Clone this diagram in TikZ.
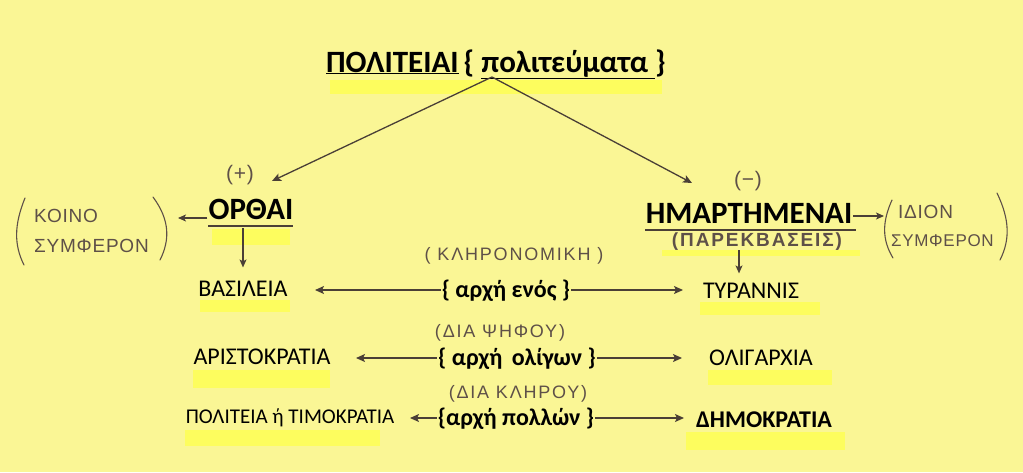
\documentclass[tikz,border=0pt]{standalone}
\usepackage{fontspec}
\setmainfont{Carlito}
\newfontfamily\handfont[LetterSpace=4]{Liberation Sans}
\newfontfamily\handwide[LetterSpace=10]{Liberation Sans}
\usetikzlibrary{arrows.meta}
\definecolor{paper}{HTML}{FAF695}
\definecolor{hilite}{HTML}{FDFD5E}
\definecolor{ink}{HTML}{4A3F36}
\definecolor{pencil}{HTML}{5E5048}
\tikzset{
  arr/.style={draw=ink, line width=1.3pt, -{Stealth[length=9pt,width=8pt,inset=2pt]}},
  sarr/.style={draw=ink, line width=1.1pt, -{Stealth[length=8pt,width=7pt,inset=2pt]}},
  big/.style={font=\fontsize{31}{34}\selectfont\bfseries, anchor=base, inner sep=1pt},
  mid/.style={font=\fontsize{24}{27}\selectfont\bfseries, anchor=base, inner sep=1pt},
  reg/.style={font=\fontsize{24}{27}\selectfont, anchor=base, inner sep=1pt},
  hand/.style={font=\handfont\fontsize{19}{21}\selectfont, text=pencil, inner sep=1pt},
  handrow/.style={font=\handwide\fontsize{18}{20}\selectfont, text=pencil, inner sep=1pt},
  paren/.style={draw=pencil, line width=1.1pt, line cap=round},
  hl/.style={fill=hilite, draw=none},
}
\begin{document}
\begin{tikzpicture}[x=1pt,y=-1pt]
\fill[paper] (0,0) rectangle (1023,472);
\useasboundingbox (0,0) rectangle (1023,472);
% highlights
\fill[hl] (330,80) rectangle (662,94);
\fill[hl] (212,229) rectangle (290,245);
\fill[hl] (662,250) rectangle (860,256);
\fill[hl] (200,300) rectangle (290,312);
\fill[hl] (700,302) rectangle (820,315);
\fill[hl] (193,370) rectangle (330,388);
\fill[hl] (708,370) rectangle (832,385);
\fill[hl] (185,430) rectangle (380,446);
\fill[hl] (686,432) rectangle (845,450);
% title
\node[big] (title) at (496,72) {\underline{ΠΟΛΙΤΕΙΑΙ}\,\{ \underline{πολιτεύματα }\}};
\coordinate (fork) at (492,77);
% main branches
\node[big] (orth) at (251,219) {ΟΡΘΑΙ};
\draw[ink, line width=1.6pt] (208,226) -- (293,226);
\node[big] (hmar) at (749,223) {ΗΜΑΡΤΗΜΕΝΑΙ};
\draw[ink, line width=1.6pt] (645,230) -- (856,230);
\node[hand, font=\handfont\fontsize{21}{23}\selectfont] (plus) at (240,175) {(+)};
\node[hand, font=\handfont\fontsize{21}{23}\selectfont] (minus) at (748,181) {(−)};
\node[handrow, font=\handwide\fontsize{19}{21}\selectfont\bfseries] (parek) at (757,242) {(ΠΑΡΕΚΒΑΣΕΙΣ)};
% arrows from title
\coordinate (orthin) at (272,181);
\coordinate (hmarin) at (692,183);
\draw[arr] (fork) -- (orthin);
\draw[arr] (fork) -- (hmarin);
% side notes
\node[hand, anchor=west] (koino) at (33,216) {ΚΟΙΝΟ};
\node[hand, anchor=west] (symf1) at (33,246) {ΣΥΜΦΕΡΟΝ};
\draw[paren] (25,198) .. controls (14,225) and (14,245) .. (24,265);
\draw[paren] (153,197) .. controls (170,220) and (170,240) .. (160,260);
\node[hand, anchor=west] (idion) at (897,212) {ΙΔΙΟΝ};
\node[hand, anchor=west, font=\handfont\fontsize{17}{19}\selectfont] (symf2) at (890,241) {ΣΥΜΦΕΡΟΝ};
\draw[paren] (892,200) .. controls (882,222) and (882,240) .. (893,258);
\draw[paren] (997,193) .. controls (1010,220) and (1010,240) .. (1000,260);
\coordinate (koinoin) at (178,218);
\coordinate (idionin) at (884,216);
\draw[sarr] (orth.west |- koinoin) -- (koinoin);
\draw[sarr] (hmar.east |- idionin) -- (idionin);
% rows
\node[reg] (vas) at (243,296) {ΒΑΣΙΛΕΙΑ};
\node[reg] (tyr) at (751,298) {ΤΥΡΑΝΝΙΣ};
\node[reg] (arist) at (262,364) {ΑΡΙΣΤΟΚΡΑΤΙΑ};
\node[reg] (olig) at (761,365) {ΟΛΙΓΑΡΧΙΑ};
\node[reg, font=\fontsize{21}{24}\selectfont] (polit) at (290,423) {ΠΟΛΙΤΕΙΑ ή ΤΙΜΟΚΡΑΤΙΑ};
\node[reg, font=\fontsize{24}{27}\selectfont\bfseries] (dim) at (764,427) {ΔΗΜΟΚΡΑΤΙΑ};
\draw[sarr, shorten >=12pt] (243,228) -- (vas.north);
\draw[sarr, shorten >=8pt] (739,250) -- (tyr.north -| 739,0);
\node[mid] (enos) at (506,297) {\{ αρχή ενός \}};
\node[mid] (olig2) at (517,365) {\{ αρχή\, ολίγων \}};
\node[mid] (poll) at (516,425) {\{αρχή πολλών \}};
\node[handrow] (klir1) at (514,256) {( ΚΛΗΡΟΝΟΜΙΚΗ )};
\node[handrow] (psif) at (500,333) {(ΔΙΑ ΨΗΦΟΥ)};
\node[handrow] (klir2) at (518,394) {(ΔΙΑ ΚΛΗΡΟΥ)};
\draw[arr] (enos.west |- 0,290) -- (315,290);
\draw[arr] (enos.east |- 0,290) -- (683,290);
\draw[arr] (olig2.west |- 0,358) -- (356,358);
\draw[arr] (olig2.east |- 0,358) -- (682,358);
\draw[arr] (poll.west |- 0,418) -- (410,418);
\draw[arr] (poll.east |- 0,418) -- (684,418);
\end{tikzpicture}
\end{document}
